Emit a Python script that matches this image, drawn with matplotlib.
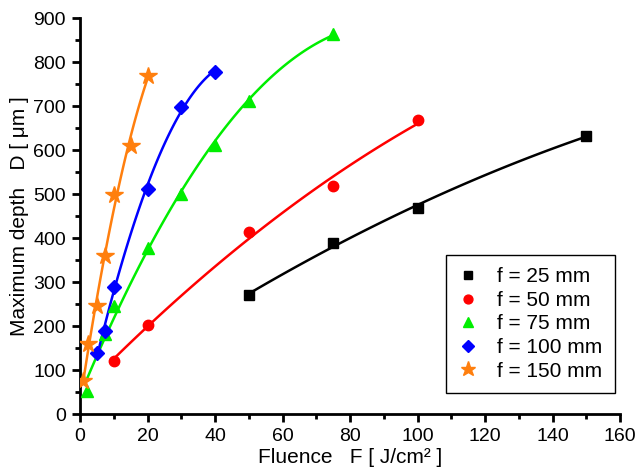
import numpy as np
import matplotlib.pyplot as plt

plt.rcParams['font.family'] = ['Liberation Sans', 'DejaVu Sans']

# data
f25_x = [50, 75, 100, 150]
f25_y = [270, 390, 468, 632]
f50_x = [10, 20, 50, 75, 100]
f50_y = [120, 202, 415, 518, 668]
f75_x = [2, 7.5, 10, 20, 30, 40, 50, 75]
f75_y = [52, 182, 246, 378, 500, 612, 712, 865]
f100_x = [5, 7.5, 10, 20, 30, 40]
f100_y = [140, 188, 290, 512, 698, 778]
f150_x = [1, 2.5, 5, 7.5, 10, 15, 20]
f150_y = [75, 160, 245, 360, 497, 610, 768]

series = [
    ('f = 25 mm', f25_x, f25_y, 'black', 's', 7),
    ('f = 50 mm', f50_x, f50_y, 'red', 'o', 7.5),
    ('f = 75 mm', f75_x, f75_y, '#00ee00', '^', 8),
    ('f = 100 mm', f100_x, f100_y, 'blue', 'D', 7),
    ('f = 150 mm', f150_x, f150_y, '#ff7f0e', '*', 13),
]

fig = plt.figure(figsize=(6.38, 4.76), dpi=100)
ax = fig.add_axes([0.1254, 0.130, 0.8464, 0.8319])

for label, x, y, c, m, ms in series:
    # quadratic fit line through the points
    coef = np.polyfit(x, y, 2)
    xs = np.linspace(min(x), max(x), 100)
    ax.plot(xs, np.polyval(coef, xs), color=c, lw=1.8, zorder=2)
    ax.plot(x, y, ls='none', marker=m, ms=ms, color=c, mec=c, label=label, zorder=3)

ax.set_xlim(0, 160)
ax.set_ylim(0, 900)
ax.set_xticks(np.arange(0, 161, 20))
ax.set_xticks(np.arange(0, 161, 10), minor=True)
ax.set_yticks(np.arange(0, 901, 100))
ax.set_yticks(np.arange(0, 901, 50), minor=True)
ax.spines['top'].set_visible(False)
ax.spines['right'].set_visible(False)
for s in ['left', 'bottom']:
    ax.spines[s].set_linewidth(2)
ax.tick_params(which='major', length=6, width=2, labelsize=14, pad=4)
ax.tick_params(which='minor', length=3.5, width=2)

ax.set_xlabel('Fluence   F [ J/cm² ]', fontsize=15, labelpad=2)
ax.set_ylabel('Maximum depth   D [ μm ]', fontsize=15, labelpad=3)

leg = ax.legend(loc='lower right', bbox_to_anchor=(0.991, 0.053), borderaxespad=0,
                fontsize=15, fancybox=False, edgecolor='black', framealpha=1,
                handletextpad=0.95, labelspacing=0.22, borderpad=0.6,
                handlelength=0.9, markerscale=0.85)
leg.get_frame().set_linewidth(1)

fig.savefig('out.png', dpi=100)
